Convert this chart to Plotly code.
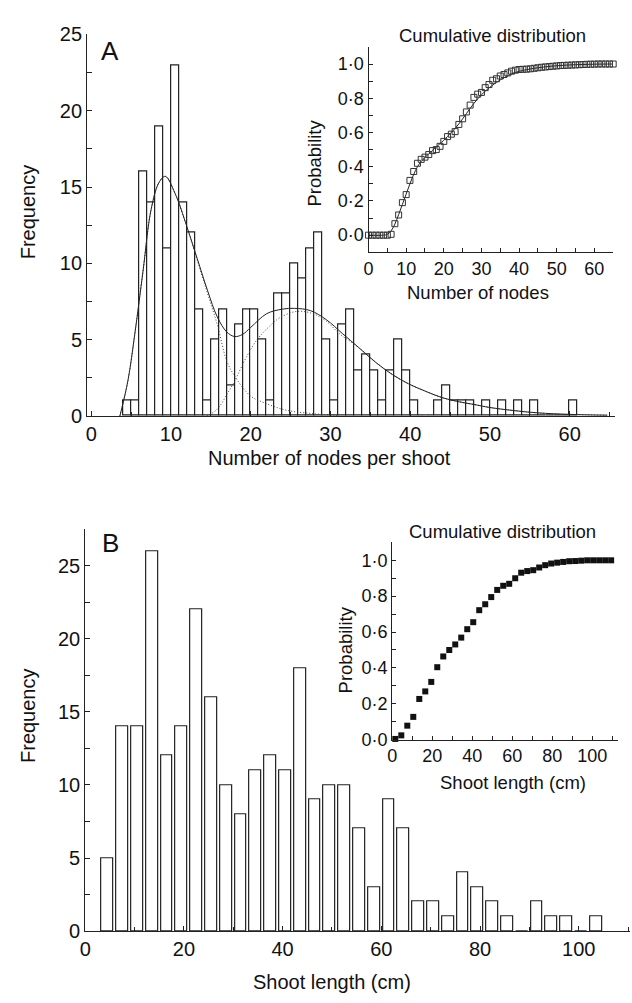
import plotly.graph_objects as go

W, H = 632, 1003

# ---------------- Panel A : number of nodes per shoot ----------------
node_bin_start = list(range(4, 61))
node_freq = [1, 1, 16, 14, 19, 11, 23, 14, 12, 7, 1, 5, 7, 2, 6, 7, 7, 5, 1, 8,
             8, 10, 9, 11, 12, 5, 1, 6, 7, 3, 4, 3, 1, 3, 5, 3, 1, 0, 0, 1,
             2, 1, 1, 1, 0, 1, 0, 1, 0, 1, 0, 1, 0, 0, 0, 0, 1]

fit_x = [3.6, 4.6, 5.5, 6.5, 7.5, 8.5, 9.3, 10.5, 12, 13.3, 14.6, 15.8, 17, 18, 19, 20, 22, 24,
         25.5, 27.5, 29.5, 31.5, 33.5, 35.7, 37.8, 39.8, 42, 44, 46, 48, 50, 53, 56, 60, 64.7]
fit_total = [0, 2.3, 5.5, 9.5, 13.5, 15.3, 15.7, 14.6, 12.4, 10.3, 8.2, 6.5, 5.5, 5.2, 5.35, 5.8,
             6.7, 7.0, 7.05, 6.9, 6.3, 5.4, 4.5, 3.5, 2.7, 2.1, 1.6, 1.2, 0.94, 0.75, 0.55, 0.35,
             0.2, 0.1, 0.05]

comp1_x = [3.6, 4.6, 5.5, 6.5, 7.5, 8.5, 9.3, 10.5, 12, 13.3, 14.6, 15.8, 17, 18, 20, 22, 24.5, 27.8, 31]
comp1_y = [0, 2.3, 5.5, 9.5, 13.5, 15.3, 15.7, 14.6, 12.4, 10.2, 8.0, 6.0, 3.6, 2.6, 1.3, 0.8, 0.37, 0.15, 0.03]

comp2_x = [14.5, 15.5, 16.2, 17, 17.9, 19.5, 20.8, 22.2, 23.7, 25.8, 27.8, 29.5, 31.1, 33.5, 35.7,
           37.8, 39.8, 42, 44, 46, 48, 50, 53, 56, 60, 64.7]
comp2_y = [0, 0.3, 0.7, 1.4, 2.2, 3.9, 5.0, 5.8, 6.45, 6.85, 6.7, 6.2, 5.4, 4.5, 3.5, 2.7, 2.1,
           1.6, 1.2, 0.94, 0.75, 0.55, 0.35, 0.2, 0.1, 0.05]

# inset A : cumulative distribution of node number
cdfA_x = list(range(0, 66))
cdfA_p = [0, 0, 0, 0, 0, 0, 0.005,
          0.067, 0.118, 0.19, 0.237, 0.32, 0.372, 0.42, 0.443, 0.456, 0.471, 0.494, 0.5, 0.519,
          0.548, 0.576, 0.59, 0.605, 0.647, 0.68, 0.72, 0.76, 0.805, 0.824, 0.834, 0.862, 0.88,
          0.905, 0.914, 0.93, 0.939, 0.948, 0.958, 0.964, 0.968,
          0.969, 0.970, 0.972, 0.975, 0.978, 0.981, 0.983, 0.985, 0.987, 0.989, 0.991, 0.992,
          0.993, 0.994, 0.995, 0.996, 0.997, 0.998, 0.999, 0.999, 1, 1, 1, 1, 1]
lineA_x = [0, 4, 5, 6, 7, 8, 9, 10, 11, 12, 13, 14, 15, 16, 17, 18, 19, 20, 22, 24, 26, 28, 30,
           32, 34, 36, 38, 40, 42, 45, 50, 55, 60, 65]
lineA_p = [0, 0, 0.005, 0.025, 0.065, 0.12, 0.18, 0.24, 0.30, 0.355, 0.40, 0.43, 0.455, 0.475,
           0.495, 0.515, 0.535, 0.555, 0.60, 0.65, 0.71, 0.77, 0.82, 0.86, 0.893, 0.92, 0.942,
           0.957, 0.967, 0.978, 0.99, 0.996, 0.999, 1.0]

# ---------------- Panel B : shoot length ----------------
len_bin_start = list(range(3, 105, 3))
len_freq = [5, 14, 14, 26, 12, 14, 22, 16, 10, 8, 11, 12, 11, 18, 9, 10, 10, 7, 3, 9,
            7, 2, 2, 1, 4, 3, 2, 1, 0, 2, 1, 1, 0, 1]

cdfB_x = [1.5 + 3 * k for k in range(37)]
cdfB_p = [0.004, 0.024, 0.078, 0.127, 0.227, 0.269, 0.322, 0.404, 0.464, 0.5, 0.531, 0.569,
          0.616, 0.655, 0.722, 0.755, 0.795, 0.835, 0.858, 0.869, 0.9, 0.931, 0.94, 0.945,
          0.96, 0.973, 0.982, 0.987, 0.991, 0.995, 0.996, 0.998, 1.0, 1.0, 1.0, 1.0, 1.0]

dot_labels = ["0·0", "0·2", "0·4", "0·6", "0·8", "1·0"]
dot_vals = [0, 0.2, 0.4, 0.6, 0.8, 1.0]

INK = "#222222"
FONT = "Liberation Sans, Arial, sans-serif"


def px(x):
    return x / W


def py(y):
    return 1 - y / H


fig = go.Figure()

# Panel A bars
fig.add_trace(go.Bar(x=[s + 0.5 for s in node_bin_start], y=node_freq, width=1,
                     marker=dict(color="white", line=dict(color=INK, width=1.2)),
                     xaxis="x", yaxis="y", showlegend=False))
fig.add_trace(go.Scatter(x=comp1_x, y=comp1_y, mode="lines",
                         line=dict(color="#444444", width=1, dash="1px,2px", shape="spline"),
                         xaxis="x", yaxis="y", showlegend=False))
fig.add_trace(go.Scatter(x=comp2_x, y=comp2_y, mode="lines",
                         line=dict(color="#444444", width=1, dash="1px,2px", shape="spline"),
                         xaxis="x", yaxis="y", showlegend=False))
fig.add_trace(go.Scatter(x=fit_x, y=fit_total, mode="lines", line=dict(color=INK, width=1, shape="spline"),
                         xaxis="x", yaxis="y", showlegend=False))

# Inset A
fig.add_trace(go.Scatter(x=lineA_x, y=lineA_p, mode="lines", line=dict(color=INK, width=1, shape="spline"),
                         xaxis="x2", yaxis="y2", showlegend=False))
fig.add_trace(go.Scatter(x=cdfA_x, y=cdfA_p, mode="markers", cliponaxis=False,
                         marker=dict(symbol="square-open", size=6, color="#333333", line=dict(width=1)),
                         xaxis="x2", yaxis="y2", showlegend=False))

# Panel B bars
fig.add_trace(go.Bar(x=[s + 1.5 for s in len_bin_start], y=len_freq, width=2.4,
                     marker=dict(color="white", line=dict(color=INK, width=1.2)),
                     xaxis="x3", yaxis="y3", showlegend=False))

# Inset B
fig.add_trace(go.Scatter(x=cdfB_x, y=cdfB_p, mode="markers", cliponaxis=False,
                         marker=dict(symbol="square", size=6, color="#111111"),
                         xaxis="x4", yaxis="y4", showlegend=False))

axis_common = dict(showline=True, linecolor=INK, linewidth=1.2, showgrid=False, zeroline=False,
                   ticks="inside", tickcolor=INK, tickwidth=1, ticklen=5,
                   tickfont=dict(family=FONT, size=20, color="#111111"))
inset_common = dict(axis_common, tickfont=dict(family=FONT, size=18, color="#111111"), ticklen=4)

fig.update_layout(
    width=W, height=H, margin=dict(l=0, r=0, t=0, b=0),
    paper_bgcolor="white", plot_bgcolor="rgba(0,0,0,0)",
    bargap=0, barmode="overlay",
    font=dict(family=FONT, color="#111111"),
    xaxis=dict(axis_common, domain=[px(82), px(615)], range=[-0.5, 65.7], anchor="y",
               tickvals=[0, 10, 20, 30, 40, 50, 60], minor=dict(dtick=5, tick0=0, ticks="inside", ticklen=4)),
    yaxis=dict(axis_common, domain=[py(414), py(24)], range=[0, 25], anchor="x",
               tickvals=[0, 5, 10, 15, 20, 25], minor=dict(dtick=2.5, tick0=0, ticks="inside", ticklen=5)),
    xaxis2=dict(inset_common, domain=[px(366), px(613)], range=[0, 65], anchor="y2",
                tickvals=[0, 10, 20, 30, 40, 50, 60], minor=dict(dtick=5, tick0=0, ticks="inside", ticklen=4)),
    yaxis2=dict(inset_common, domain=[py(246.7), py(36.7)], range=[-0.1, 1.1], anchor="x2",
                tickvals=dot_vals, ticktext=dot_labels, minor=dict(dtick=0.1, tick0=0, ticks="inside", ticklen=4)),
    xaxis3=dict(axis_common, domain=[px(80), px(630)], range=[0, 110.4], anchor="y3",
                tickvals=[0, 20, 40, 60, 80, 100], minor=dict(dtick=10, tick0=0, ticks="inside", ticklen=4)),
    yaxis3=dict(axis_common, domain=[py(940.7), py(530)], range=[0, 27.5], anchor="x3",
                tickvals=[0, 5, 10, 15, 20, 25], minor=dict(dtick=2.5, tick0=0, ticks="inside", ticklen=5)),
    xaxis4=dict(inset_common, domain=[px(390), px(618)], range=[0, 113], anchor="y4",
                tickvals=[0, 20, 40, 60, 80, 100], minor=dict(dtick=10, tick0=0, ticks="inside", ticklen=4)),
    yaxis4=dict(inset_common, domain=[py(745), py(543.3)], range=[0, 1.1], anchor="x4",
                tickvals=dot_vals, ticktext=dot_labels, minor=dict(dtick=0.1, tick0=0, ticks="inside", ticklen=4)),
)

ann = [
    ("A", 105, 41, 26, 0),
    ("B", 105, 544, 26, 0),
    ("Frequency", 22, 205, 20, -90),
    ("Frequency", 22, 720, 20, -90),
    ("Number of nodes per shoot", 327, 457, 20, 0),
    ("Shoot length (cm)", 329, 993, 20, 0),
    ("Cumulative distribution", 491, 25, 18.5, 0),
    ("Probability", 312, 156, 18.5, -90),
    ("Number of nodes", 477, 288, 18.5, 0),
    ("Cumulative distribution", 501, 532, 18.5, 0),
    ("Probability", 343, 653, 18.5, -90),
    ("Shoot length (cm)", 512, 789, 18.5, 0),
]
for text, x, y, size, ang in ann:
    fig.add_annotation(text=text, x=px(x), y=py(y), xref="paper", yref="paper",
                       xanchor="center", yanchor="middle", showarrow=False, textangle=ang,
                       font=dict(family=FONT, size=size, color="#111111"))

fig.write_html("out.html")
